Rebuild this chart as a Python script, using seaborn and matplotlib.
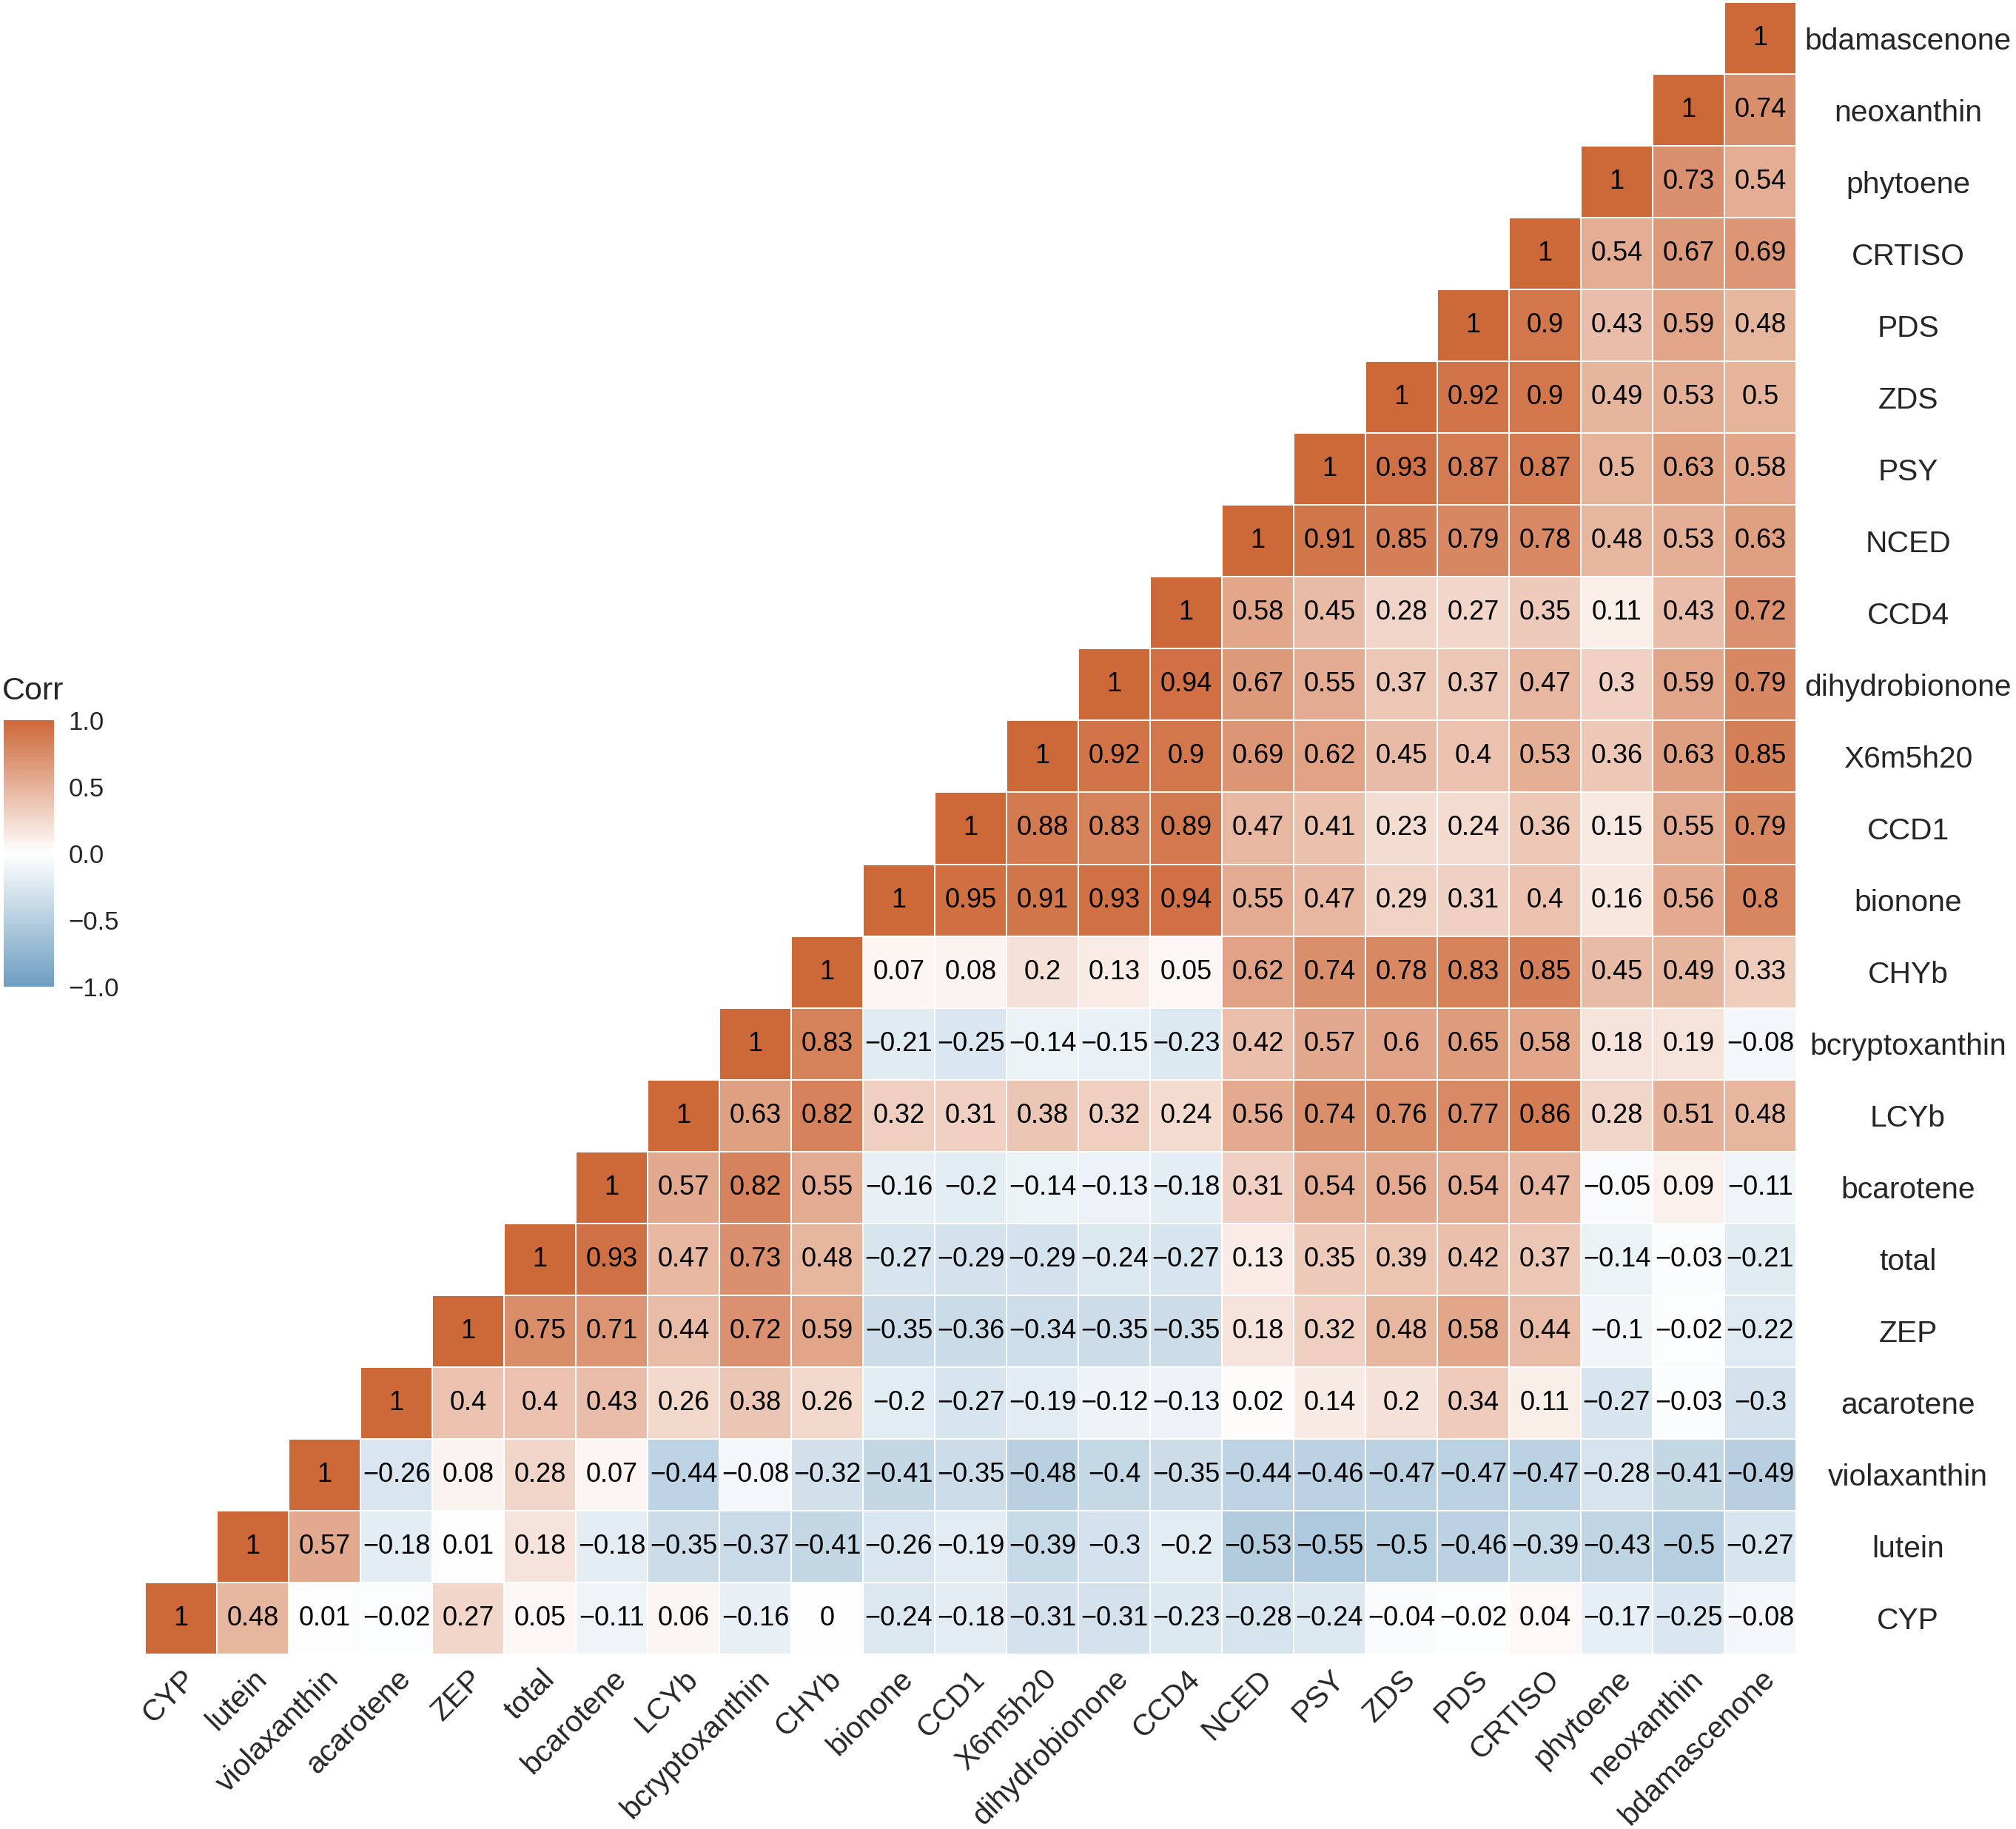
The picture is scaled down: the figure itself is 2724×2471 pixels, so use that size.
import numpy as np
import pandas as pd
import seaborn as sns
import matplotlib.pyplot as plt
from matplotlib.colors import LinearSegmentedColormap

sns.set_theme(style="white")
plt.rcParams['font.family'] = ['Liberation Sans', 'DejaVu Sans']

# Variables in plotting order (left->right on x, bottom->top on y)
variables = ["CYP", "lutein", "violaxanthin", "acarotene", "ZEP", "total", "bcarotene",
             "LCYb", "bcryptoxanthin", "CHYb", "bionone", "CCD1", "X6m5h20",
             "dihydrobionone", "CCD4", "NCED", "PSY", "ZDS", "PDS", "CRTISO",
             "phytoene", "neoxanthin", "bdamascenone"]

# Correlations of each variable with itself and the variables after it
r_CYP = [1, 0.48, 0.01, -0.02, 0.27, 0.05, -0.11, 0.06, -0.16, 0, -0.24, -0.18, -0.31,
         -0.31, -0.23, -0.28, -0.24, -0.04, -0.02, 0.04, -0.17, -0.25, -0.08]
r_lutein = [1, 0.57, -0.18, 0.01, 0.18, -0.18, -0.35, -0.37, -0.41, -0.26, -0.19, -0.39,
            -0.3, -0.2, -0.53, -0.55, -0.5, -0.46, -0.39, -0.43, -0.5, -0.27]
r_violaxanthin = [1, -0.26, 0.08, 0.28, 0.07, -0.44, -0.08, -0.32, -0.41, -0.35, -0.48,
                  -0.4, -0.35, -0.44, -0.46, -0.47, -0.47, -0.47, -0.28, -0.41, -0.49]
r_acarotene = [1, 0.4, 0.4, 0.43, 0.26, 0.38, 0.26, -0.2, -0.27, -0.19, -0.12, -0.13,
               0.02, 0.14, 0.2, 0.34, 0.11, -0.27, -0.03, -0.3]
r_ZEP = [1, 0.75, 0.71, 0.44, 0.72, 0.59, -0.35, -0.36, -0.34, -0.35, -0.35, 0.18, 0.32,
         0.48, 0.58, 0.44, -0.1, -0.02, -0.22]
r_total = [1, 0.93, 0.47, 0.73, 0.48, -0.27, -0.29, -0.29, -0.24, -0.27, 0.13, 0.35, 0.39,
           0.42, 0.37, -0.14, -0.03, -0.21]
r_bcarotene = [1, 0.57, 0.82, 0.55, -0.16, -0.2, -0.14, -0.13, -0.18, 0.31, 0.54, 0.56,
               0.54, 0.47, -0.05, 0.09, -0.11]
r_LCYb = [1, 0.63, 0.82, 0.32, 0.31, 0.38, 0.32, 0.24, 0.56, 0.74, 0.76, 0.77, 0.86, 0.28,
          0.51, 0.48]
r_bcryptoxanthin = [1, 0.83, -0.21, -0.25, -0.14, -0.15, -0.23, 0.42, 0.57, 0.6, 0.65,
                    0.58, 0.18, 0.19, -0.08]
r_CHYb = [1, 0.07, 0.08, 0.2, 0.13, 0.05, 0.62, 0.74, 0.78, 0.83, 0.85, 0.45, 0.49, 0.33]
r_bionone = [1, 0.95, 0.91, 0.93, 0.94, 0.55, 0.47, 0.29, 0.31, 0.4, 0.16, 0.56, 0.8]
r_CCD1 = [1, 0.88, 0.83, 0.89, 0.47, 0.41, 0.23, 0.24, 0.36, 0.15, 0.55, 0.79]
r_X6m5h20 = [1, 0.92, 0.9, 0.69, 0.62, 0.45, 0.4, 0.53, 0.36, 0.63, 0.85]
r_dihydrobionone = [1, 0.94, 0.67, 0.55, 0.37, 0.37, 0.47, 0.3, 0.59, 0.79]
r_CCD4 = [1, 0.58, 0.45, 0.28, 0.27, 0.35, 0.11, 0.43, 0.72]
r_NCED = [1, 0.91, 0.85, 0.79, 0.78, 0.48, 0.53, 0.63]
r_PSY = [1, 0.93, 0.87, 0.87, 0.5, 0.63, 0.58]
r_ZDS = [1, 0.92, 0.9, 0.49, 0.53, 0.5]
r_PDS = [1, 0.9, 0.43, 0.59, 0.48]
r_CRTISO = [1, 0.54, 0.67, 0.69]
r_phytoene = [1, 0.73, 0.54]
r_neoxanthin = [1, 0.74]
r_bdamascenone = [1]

upper_rows = [r_CYP, r_lutein, r_violaxanthin, r_acarotene, r_ZEP, r_total, r_bcarotene,
              r_LCYb, r_bcryptoxanthin, r_CHYb, r_bionone, r_CCD1, r_X6m5h20,
              r_dihydrobionone, r_CCD4, r_NCED, r_PSY, r_ZDS, r_PDS, r_CRTISO,
              r_phytoene, r_neoxanthin, r_bdamascenone]

n = len(variables)
corr = np.full((n, n), np.nan)
for i, vals in enumerate(upper_rows):
    for k, v in enumerate(vals):
        corr[i, i + k] = v
        corr[i + k, i] = v

# rows top->bottom = bdamascenone ... CYP
df = pd.DataFrame(corr[::-1], index=variables[::-1], columns=variables)
idx = np.arange(n)
row_var = (n - 1 - idx)[:, None]
mask = idx[None, :] < row_var


def fmt(v):
    s = f"{v:g}"
    return s.replace("-", "\u2212")


labels = np.vectorize(fmt)(df.values)

cmap = LinearSegmentedColormap.from_list("corr", ["#6D9EC1", "#FFFFFF", "#CD6839"])

W, H = 2724, 2471
fig = plt.figure(figsize=(W / 200, H / 200), dpi=200)
ax = fig.add_axes([196 / W, 1 - 2235 / H, 2231 / W, 2232 / H])
cax = fig.add_axes([5 / W, 1 - 1333 / H, 68 / W, 360 / H])

sns.heatmap(df, mask=mask, cmap=cmap, vmin=-1, vmax=1, annot=labels, fmt="",
            annot_kws={"fontsize": 13, "color": "black"},
            linewidths=0.6, linecolor="white", ax=ax, cbar_ax=cax)

ax.set_xlabel("")
ax.set_ylabel("")
ax.set_xticklabels(variables, rotation=45, ha="right", va="top",
                   rotation_mode="anchor", fontsize=14.7)
ax.tick_params(axis="x", length=0, pad=5)
ax.yaxis.tick_right()
ax.set_yticklabels(variables[::-1], rotation=0, ha="center", fontsize=14.7)
ax.tick_params(axis="y", length=0, pad=54.4)

# colorbar styled like ggplot
cax.set_yticks([-1, -0.5, 0, 0.5, 1])
cax.set_yticklabels(["\u22121.0", "\u22120.5", "0.0", "0.5", "1.0"], fontsize=12.5)
cax.tick_params(axis="y", which="both", left=True, right=True, direction="in",
                color="white", length=4, width=0.8, pad=7)
for sp in cax.spines.values():
    sp.set_visible(False)
fig.text(3 / W, 1 - 945 / H, "Corr", fontsize=15.5, va="baseline", ha="left")

fig.savefig("out.png", dpi=200)
